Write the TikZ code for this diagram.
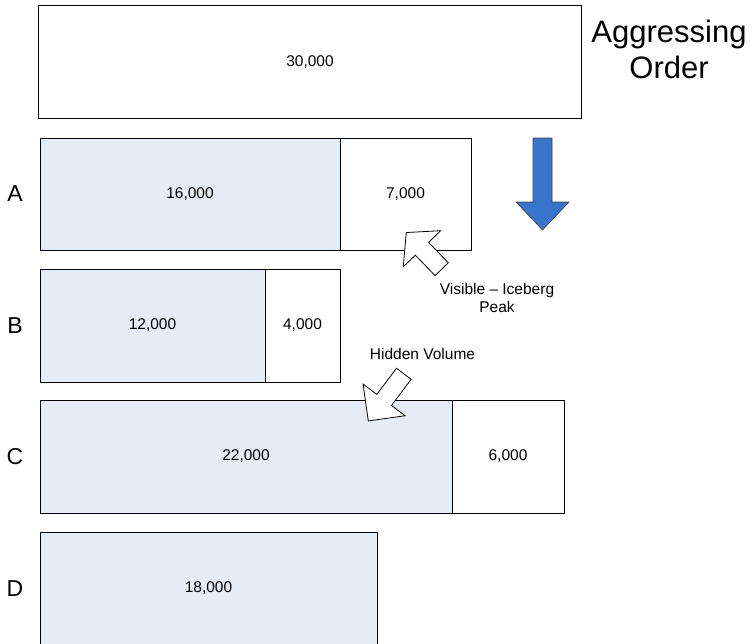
\documentclass[tikz,border=0pt]{standalone}
\usepackage{fontspec}
\setmainfont{Liberation Sans}
\usetikzlibrary{positioning}
\definecolor{hiddenfill}{HTML}{E6ECF6}
\definecolor{orderblue}{HTML}{3874CB}

\begin{document}
\begin{tikzpicture}[x=1pt, y=-1pt,
    qty/.style={draw=black, line width=0.8pt, outer sep=0pt, inner sep=0pt,
        font=\fontsize{15.5}{18}\selectfont},
    hiddenbox/.style={qty, fill=hiddenfill},
    peakbox/.style={qty, fill=white},
    rowlabel/.style={font=\fontsize{23}{26}\selectfont},
    note/.style={font=\fontsize{15.5}{18.5}\selectfont, align=center},
    hollow/.style={draw=black, fill=white, line width=0.8pt, line join=miter}]
        \useasboundingbox (0,0) rectangle (752,643);
        % incoming order
        \node[peakbox, minimum width=543pt, minimum height=113pt, anchor=north west]
            (agg) at (38.5,5.5) {30,000};
        \node[font=\fontsize{31}{36}\selectfont, align=center] (aggname) at (669,49)
            {Aggressing\\Order};
        % resting orders, hidden part and visible peak
        \node[hiddenbox, minimum width=300pt, minimum height=112pt, anchor=north west]
            (a1) at (40,138) {16,000};
        \node[peakbox, minimum width=131pt, minimum height=112pt, right=0pt of a1] (a2) {7,000};
        \node[hiddenbox, minimum width=225pt, minimum height=113pt, anchor=north west]
            (b1) at (40,269) {12,000};
        \node[peakbox, minimum width=75pt, minimum height=113pt, right=0pt of b1] (b2) {4,000};
        \node[hiddenbox, minimum width=412pt, minimum height=113pt, anchor=north west]
            (c1) at (40,400) {22,000};
        \node[peakbox, minimum width=112pt, minimum height=113pt, right=0pt of c1] (c2) {6,000};
        \node[hiddenbox, minimum width=337pt, minimum height=113pt, anchor=north west]
            (d1) at (40,532) {18,000};
        % row letters
        \node[rowlabel] (la) at (15,194) {A};
        \node[rowlabel] (lb) at (15,325.5) {B};
        \node[rowlabel] (lc) at (15,456.5) {C};
        \node[rowlabel] (ld) at (15,588.5) {D};
        % blue arrow
        \path[draw=black!75, fill=orderblue, line width=0.6pt]
            (533,138) -- (552,138) -- (552,202) -- (569,202) -- (542.5,230)
            -- (516,202) -- (533,202) -- cycle;
        % pointer to the peak
        \begin{scope}[shift={(441.7,269.2)}, rotate=134]
            \path[hollow] (0,-9.2) -- (28.4,-9.2) -- (28.4,-26) -- (51,0)
                -- (28.4,26) -- (28.4,9.2) -- (0,9.2) -- cycle;
        \end{scope}
        \node[note] (peak) at (497,298) {Visible – Iceberg\\Peak};
        % pointer to the hidden volume
        \begin{scope}[shift={(403.8,373.8)}, rotate=233]
            \path[hollow] (0,-9.2) -- (32.7,-9.2) -- (32.7,-26.3) -- (59,0)
                -- (32.7,26.3) -- (32.7,9.2) -- (0,9.2) -- cycle;
        \end{scope}
        \node[note] (hidden) at (422.5,354) {Hidden Volume};
\end{tikzpicture}
\end{document}
